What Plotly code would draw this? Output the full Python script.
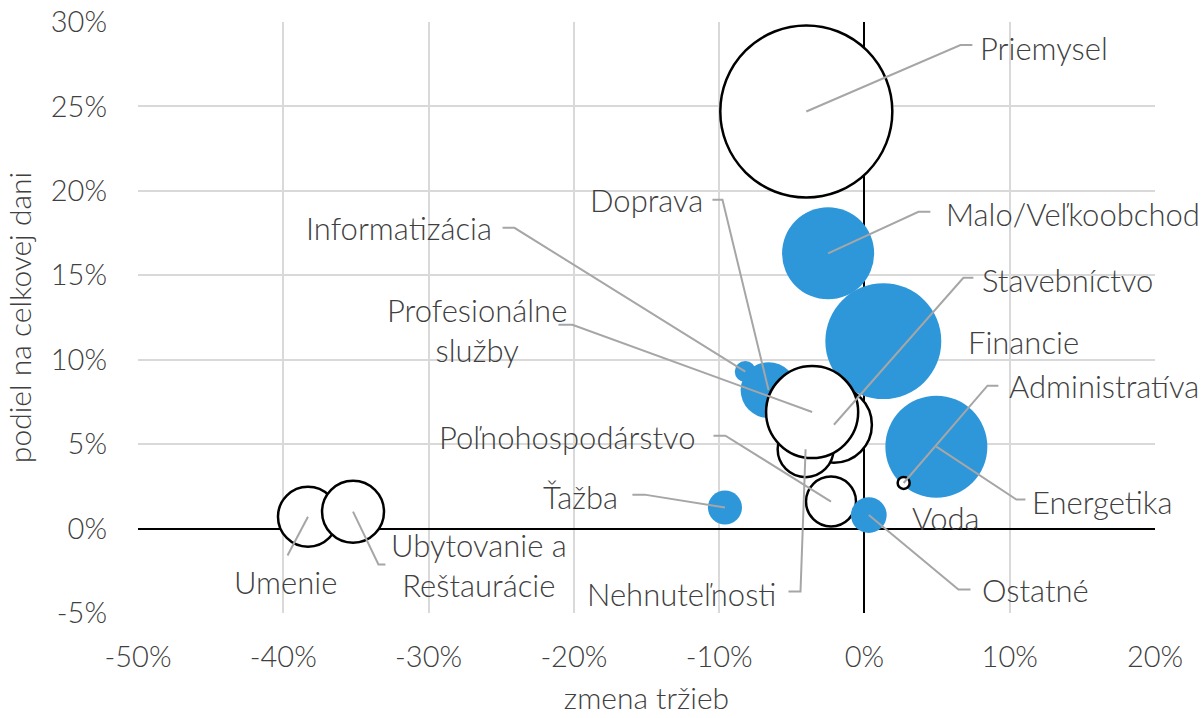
import plotly.graph_objects as go

# ---------------- data ----------------
odvetvia = ["Priemysel", "Umenie", "Ubytovanie a<br>Reštaurácie", "Informatizácia", "Doprava",
            "Malo/Veľkoobchod", "Financie", "Stavebníctvo", "Nehnuteľnosti",
            "Profesionálne<br>služby", "Poľnohospodárstvo", "Ostatné", "Ťažba",
            "Energetika", "Administratíva", "Voda"]
zmena_trzieb = [-4.0, -38.3, -35.2, -8.2, -6.6, -2.5, 1.3, -2.1, -4.05, -3.6, -2.3, 0.3, -9.6, 4.95, 2.7, 3.0]
podiel_dani = [24.7, 0.7, 1.0, 9.3, 8.2, 16.3, 11.1, 6.15, 4.7, 6.9, 1.6, 0.8, 1.25, 4.85, 2.7, 0.6]
vaha = [74.0, 9.0, 9.6, 1.1, 7.8, 21.2, 33.6, 14.4, 7.8, 21.2, 6.25, 3.2, 2.9, 26.0, 0.36, 0.0]
skupina = ["B", "B", "B", "A", "A", "A", "A", "B", "B", "B", "B", "A", "A", "A", "B", "B"]

x_tickvals = [-50, -40, -30, -20, -10, 0, 10, 20]
x_ticktext = ["-50%", "-40%", "-30%", "-20%", "-10%", "0%", "10%", "20%"]
y_tickvals = [-5, 0, 5, 10, 15, 20, 25, 30]
y_ticktext = ["-5%", "0%", "5%", "10%", "15%", "20%", "25%", "30%"]

# ---------------- label layout (text position, anchor, leader-line bend points) ----------------
label_layout = {
    "Priemysel": dict(x=7.85, y=28.46, anchor="left", leader=[(6.61, 28.64), (7.43, 28.64)]),
    "Malo/Veľkoobchod": dict(x=5.51, y=18.64, anchor="left", leader=[(3.72, 18.76), (4.54, 18.76)]),
    "Stavebníctvo": dict(x=7.98, y=14.73, anchor="left", leader=[(6.81, 14.85), (7.50, 14.85)]),
    "Financie": dict(x=7.02, y=11.07, anchor="left", leader=None),
    "Administratíva": dict(x=9.84, y=8.46, anchor="left", leader=[(8.47, 8.46), (9.22, 8.46)]),
    "Energetika": dict(x=11.42, y=1.60, anchor="left", leader=[(10.46, 1.72), (11.08, 1.72)]),
    "Voda": dict(x=3.17, y=0.65, anchor="left", leader=None),
    "Ostatné": dict(x=7.98, y=-3.61, anchor="left", leader=[(6.47, -3.61), (7.30, -3.61)]),
    "Nehnuteľnosti": dict(x=-5.92, y=-3.85, anchor="right", leader=[(-4.40, -3.73), (-5.23, -3.73)]),
    "Poľnohospodárstvo": dict(x=-11.49, y=5.44, anchor="right", leader=[(-9.57, 5.50), (-10.39, 5.50)]),
    "Ťažba": dict(x=-16.79, y=1.89, anchor="right", leader=[(-15.14, 2.01), (-15.97, 2.01)]),
    "Umenie": dict(x=-39.85, y=-3.14, anchor="center", leader=[(-39.71, -1.60)]),
    "Ubytovanie a<br>Reštaurácie": dict(x=-26.50, y=-2.16, anchor="center", leader=[(-33.45, -2.13), (-32.97, -2.13)]),
    "Profesionálne<br>služby": dict(x=-26.70, y=11.78, anchor="center", leader=[(-20.10, 12.07), (-21.06, 12.07)]),
    "Informatizácia": dict(x=-25.53, y=17.81, anchor="right", leader=[(-24.09, 17.81), (-24.91, 17.81)]),
    "Doprava": dict(x=-10.94, y=19.47, anchor="right", leader=[(-9.77, 19.47), (-10.46, 19.47)]),
}

FONT = "Lato, 'Open Sans', sans-serif"
TXT = "#404040"
BLUE = "#2E97DA"
farby = {"A": BLUE, "B": "#FFFFFF"}
obrysy = {"A": BLUE, "B": "#000000"}
hrubky = {"A": 0, "B": 2.5}
LBL = dict(family=FONT, size=31, color=TXT, weight=300)
TCK = dict(family=FONT, size=29, color=TXT, weight=300)

fig = go.Figure()
fig.add_trace(go.Scatter(
    x=zmena_trzieb, y=podiel_dani, mode="markers",
    text=odvetvia, hoverinfo="text",
    marker=dict(
        size=vaha, sizemode="area", sizeref=0.005, sizemin=0,
        color=[farby[s] for s in skupina],
        opacity=1,
        line=dict(color=[obrysy[s] for s in skupina], width=[hrubky[s] for s in skupina]),
    ),
    showlegend=False,
))

shapes = []
annotations = []
for name, xv, yv in zip(odvetvia, zmena_trzieb, podiel_dani):
    lay = label_layout[name]
    if lay["leader"]:
        pts = [(xv, yv)] + lay["leader"]
        path = "M " + " L ".join(f"{px},{py}" for px, py in pts)
        shapes.append(dict(type="path", path=path, xref="x", yref="y",
                           line=dict(color="#A6A6A6", width=2), layer="above"))
    annotations.append(dict(
        x=lay["x"], y=lay["y"], xref="x", yref="y", text=name, showarrow=False,
        xanchor=lay["anchor"], yanchor="middle", align="center",
        font=LBL,
    ))

fig.update_layout(
    width=1203, height=718,
    margin=dict(l=138, r=48, t=22, b=105),
    plot_bgcolor="white", paper_bgcolor="white",
    font=LBL,
    shapes=shapes, annotations=annotations,
    xaxis=dict(
        range=[-50, 20], tickvals=x_tickvals, ticktext=x_ticktext,
        showgrid=True, gridcolor="#D9D9D9", gridwidth=2,
        zeroline=True, zerolinecolor="#000000", zerolinewidth=2,
        showline=False, ticks="", ticklabelstandoff=24, automargin=False,
        title=dict(text="zmena tržieb", standoff=15, font=dict(LBL, size=30)),
        tickfont=TCK,
    ),
    yaxis=dict(
        range=[-5, 30], tickvals=y_tickvals, ticktext=y_ticktext,
        showgrid=True, gridcolor="#D9D9D9", gridwidth=2,
        zeroline=True, zerolinecolor="#000000", zerolinewidth=2,
        showline=False, ticks="", ticklabelstandoff=30, automargin=False,
        title=dict(text="podiel na celkovej dani", standoff=10, font=dict(LBL, size=30)),
        tickfont=TCK,
    ),
)

fig.write_html("out.html", config={"displayModeBar": False},
               post_script="document.body.style.margin='0';")
